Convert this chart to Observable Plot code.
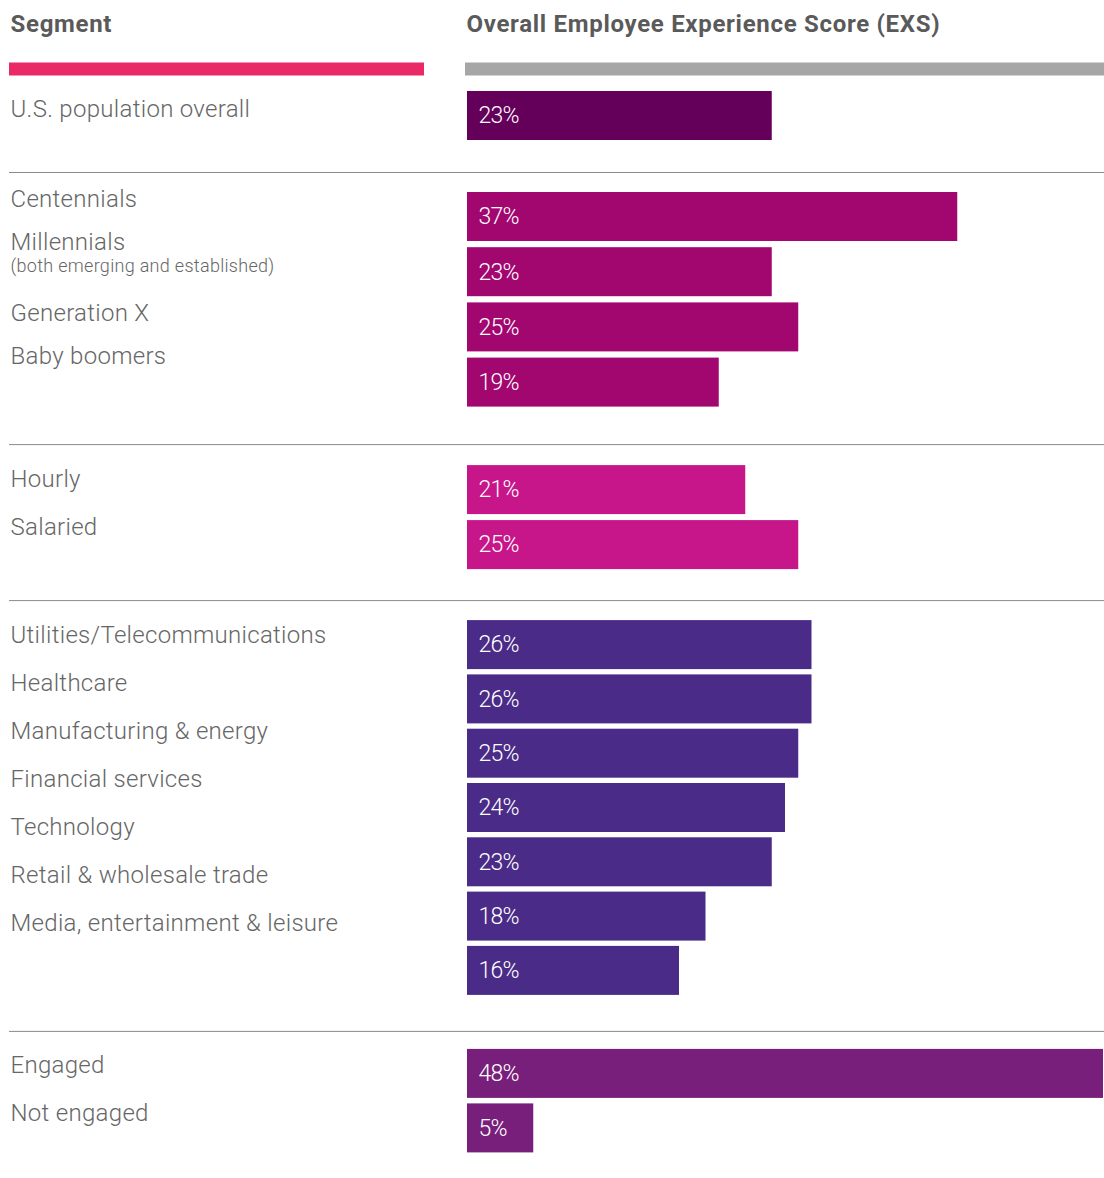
<!DOCTYPE html>
<html>
<head>
<meta charset="utf-8">
<script src="https://cdn.jsdelivr.net/npm/d3@7"></script>
<script src="https://cdn.jsdelivr.net/npm/@observablehq/plot@0.6"></script>
<style>
  html, body { margin: 0; padding: 0; background: #ffffff; }
  svg { display: block; }
</style>
</head>
<body>
<div id="chart"></div>
<script>
// ---------- data ----------
const headerSegment = "Segment";
const headerScore = "Overall Employee Experience Score (EXS)";

const overallLabels = ["U.S. population overall"];
const overallValues = [23];

const generationLabels = ["Centennials", "Millennials", "Generation X", "Baby boomers"];
const generationValues = [37, 23, 25, 19];
const millennialsNote = "(both emerging and established)";

const payLabels = ["Hourly", "Salaried"];
const payValues = [21, 25];

const industryLabels = [
  "Utilities/Telecommunications", "Healthcare", "Manufacturing & energy",
  "Financial services", "Technology", "Retail & wholesale trade",
  "Media, entertainment & leisure"
];
const industryValues = [26, 26, 25, 24, 23, 18, 16];

const engagementLabels = ["Engaged", "Not engaged"];
const engagementValues = [48, 5];

const groupColors = ["#64005a", "#a2066f", "#c7168a", "#4a2b87", "#781e7b"];

// ---------- layout ----------
const W = 1104, H = 1178;
const groups = [
  {labels: overallLabels, values: overallValues, color: groupColors[0],
   lay: {step: 54.5, sepGap: 32, afterSep: 20}, lab: {off: 25, step: 48}},
  {labels: generationLabels, values: generationValues, color: groupColors[1],
   lay: {step: 55.2, sepGap: 37.5, afterSep: 21}, lab: {off: 14, step: 43.5},
   note: {after: 1, text: millennialsNote, gap: 22, extra: 27}},
  {labels: payLabels, values: payValues, color: groupColors[2],
   lay: {step: 55, sepGap: 31, afterSep: 20}, lab: {off: 21, step: 48}},
  {labels: industryLabels, values: industryValues, color: groupColors[3],
   lay: {step: 54.3, sepGap: 36, afterSep: 18}, lab: {off: 22, step: 48}},
  {labels: engagementLabels, values: engagementValues, color: groupColors[4],
   lay: {step: 54.5, sepGap: 0, afterSep: 0}, lab: {off: 24, step: 48}}
];

const firstTop = 91, barH = 49;
const bars = [], labels = [], notes = [], seps = [];
let curTop = firstTop;
groups.forEach((g, gi) => {
  g.values.forEach((v, i) => {
    const t = curTop + i * g.lay.step;
    bars.push({value: v, y1: t, y2: t + barH, ym: t + barH / 2, color: g.color, text: v + "%"});
  });
  let base = curTop + g.lab.off;
  g.labels.forEach((l, i) => {
    labels.push({text: l, y: base});
    if (g.note && g.note.after === i) {
      notes.push({text: g.note.text, y: base + g.note.gap});
      base += g.note.extra;
    }
    base += g.lab.step;
  });
  const bottom = curTop + (g.values.length - 1) * g.lay.step + barH;
  if (gi < groups.length - 1) {
    const s = bottom + g.lay.sepGap;
    seps.push({y: s});
    curTop = s + g.lay.afterSep;
  }
});

const textColor = "#666666";
const headColor = "#5a5a5a";

const chart = Plot.plot({
  width: W,
  height: H,
  margin: 0,
  x: {domain: [0, 48], range: [467, 1103], axis: null},
  y: {domain: [0, H], range: [0, H], axis: null},
  color: {type: "identity"},
  style: {fontFamily: "Roboto, 'Liberation Sans', sans-serif", background: "#ffffff"},
  marks: [
    // header texts
    Plot.text([headerSegment], {y: () => 31, frameAnchor: "left", dx: 10, text: d => d, textAnchor: "start", lineAnchor: "bottom", fontSize: 24, fontWeight: 700, fill: headColor}),
    Plot.text([headerScore], {x: () => 0, y: () => 31, dx: -1, text: d => d, textAnchor: "start", lineAnchor: "bottom", fontSize: 24, fontWeight: 700, fill: headColor}),
    // header bars
    Plot.ruleY([68.5], {stroke: "#e92a67", strokeWidth: 13, insetLeft: 9, insetRight: W - 424}),
    Plot.ruleY([68.5], {stroke: "#a6a6a6", strokeWidth: 13, insetLeft: 465, insetRight: 0}),
    // separators
    Plot.ruleY(seps, {y: "y", stroke: "#8a8a8a", strokeWidth: 1, insetLeft: 9}),
    // bars
    Plot.rect(bars, {x1: () => 0, x2: "value", y1: "y1", y2: "y2", fill: "color"}),
    Plot.text(bars, {x: () => 0, y: "ym", dx: 11, text: "text", textAnchor: "start", lineAnchor: "middle", fontSize: 23, fontWeight: 300, fill: "#ffffff"}),
    // labels
    Plot.text(labels, {y: "y", frameAnchor: "left", dx: 10, text: "text", textAnchor: "start", lineAnchor: "bottom", fontSize: 24, fontWeight: 300, fill: textColor}),
    Plot.text(notes, {y: "y", frameAnchor: "left", dx: 10, text: "text", textAnchor: "start", lineAnchor: "bottom", fontSize: 18, fontWeight: 300, fill: textColor})
  ]
});

// typographic tweaks (letter spacing) on the text marks, in mark order
const spacing = ["0.7px", "0.7px", "-0.8px", "0.3px", "0.3px"];
chart.querySelectorAll('g[aria-label="text"]').forEach((g, i) => {
  if (spacing[i]) g.setAttribute("letter-spacing", spacing[i]);
});

document.getElementById("chart").appendChild(chart);
</script>
</body>
</html>
